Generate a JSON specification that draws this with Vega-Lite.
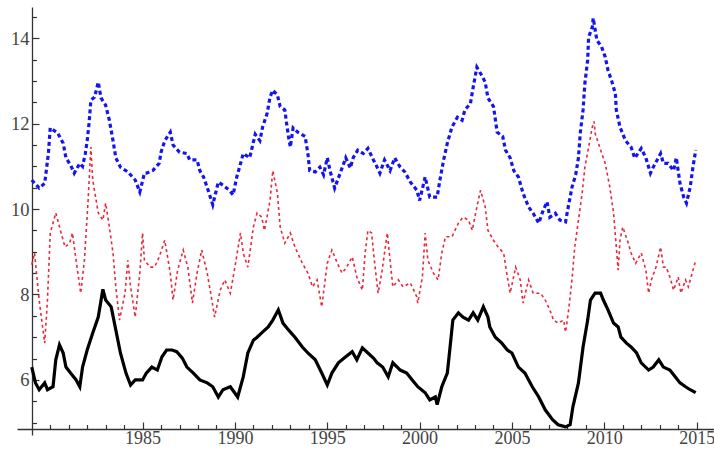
{
  "$schema": "https://vega.github.io/schema/vega-lite/v6.json",
  "width": 697,
  "height": 428,
  "autosize": {"type": "none"},
  "padding": {"left": 17, "top": 7, "right": 0, "bottom": 22},
  "background": "white",
  "config": {"view": {"stroke": null}},
  "datasets": {
    "upper": [
      {"t":1979.0,"v":10.68},{"t":1979.4,"v":10.49},{"t":1979.7,"v":10.6},{"t":1979.9,"v":11.3},{"t":1980.0,"v":11.9},{"t":1980.4,"v":11.78},{"t":1980.7,"v":11.54},{"t":1980.85,"v":11.2},{"t":1981.1,"v":11.03},{"t":1981.3,"v":10.84},{"t":1981.6,"v":11.07},{"t":1981.75,"v":11.0},{"t":1981.9,"v":11.3},{"t":1982.0,"v":11.6},{"t":1982.1,"v":12.0},{"t":1982.2,"v":12.55},{"t":1982.4,"v":12.62},{"t":1982.6,"v":12.97},{"t":1982.75,"v":12.6},{"t":1983.0,"v":12.43},{"t":1983.2,"v":12.08},{"t":1983.4,"v":11.6},{"t":1983.55,"v":11.2},{"t":1983.8,"v":10.98},{"t":1984.2,"v":10.87},{"t":1984.6,"v":10.68},{"t":1984.85,"v":10.4},{"t":1985.1,"v":10.84},{"t":1985.2,"v":10.84},{"t":1985.55,"v":10.9},{"t":1985.9,"v":11.07},{"t":1986.0,"v":11.33},{"t":1986.2,"v":11.6},{"t":1986.5,"v":11.8},{"t":1986.65,"v":11.5},{"t":1987.0,"v":11.33},{"t":1987.4,"v":11.3},{"t":1987.55,"v":11.15},{"t":1987.95,"v":11.15},{"t":1988.1,"v":10.9},{"t":1988.3,"v":10.75},{"t":1988.55,"v":10.44},{"t":1988.8,"v":10.1},{"t":1989.1,"v":10.63},{"t":1989.35,"v":10.56},{"t":1989.7,"v":10.44},{"t":1989.9,"v":10.33},{"t":1990.1,"v":10.75},{"t":1990.25,"v":10.98},{"t":1990.45,"v":11.3},{"t":1990.8,"v":11.2},{"t":1991.1,"v":11.75},{"t":1991.35,"v":11.6},{"t":1991.5,"v":11.92},{"t":1991.75,"v":12.25},{"t":1991.9,"v":12.62},{"t":1992.05,"v":12.78},{"t":1992.3,"v":12.67},{"t":1992.45,"v":12.4},{"t":1992.7,"v":12.32},{"t":1992.8,"v":12.0},{"t":1992.9,"v":11.7},{"t":1993.0,"v":11.45},{"t":1993.15,"v":11.9},{"t":1993.4,"v":11.8},{"t":1993.8,"v":11.7},{"t":1993.95,"v":11.3},{"t":1994.05,"v":10.9},{"t":1994.35,"v":10.87},{"t":1994.6,"v":10.98},{"t":1994.8,"v":10.8},{"t":1995.0,"v":11.2},{"t":1995.15,"v":10.9},{"t":1995.4,"v":10.49},{"t":1995.7,"v":10.84},{"t":1996.0,"v":11.2},{"t":1996.25,"v":10.96},{"t":1996.4,"v":11.2},{"t":1996.65,"v":11.38},{"t":1996.95,"v":11.3},{"t":1997.2,"v":11.42},{"t":1997.5,"v":11.15},{"t":1997.6,"v":11.07},{"t":1997.85,"v":10.84},{"t":1998.1,"v":11.15},{"t":1998.4,"v":10.9},{"t":1998.65,"v":11.2},{"t":1998.95,"v":10.98},{"t":1999.2,"v":10.87},{"t":1999.5,"v":10.63},{"t":1999.85,"v":10.44},{"t":2000.0,"v":10.2},{"t":2000.3,"v":10.75},{"t":2000.55,"v":10.28},{"t":2000.95,"v":10.28},{"t":2001.1,"v":10.68},{"t":2001.3,"v":11.15},{"t":2001.5,"v":11.54},{"t":2001.75,"v":11.92},{"t":2002.05,"v":12.15},{"t":2002.3,"v":12.08},{"t":2002.45,"v":12.32},{"t":2002.75,"v":12.47},{"t":2002.9,"v":12.85},{"t":2003.1,"v":13.32},{"t":2003.4,"v":13.1},{"t":2003.55,"v":12.97},{"t":2003.7,"v":12.6},{"t":2004.0,"v":12.4},{"t":2004.2,"v":11.8},{"t":2004.5,"v":11.7},{"t":2004.65,"v":11.38},{"t":2004.9,"v":11.2},{"t":2005.1,"v":10.9},{"t":2005.35,"v":10.75},{"t":2005.6,"v":10.37},{"t":2005.9,"v":10.05},{"t":2006.15,"v":9.9},{"t":2006.45,"v":9.67},{"t":2006.7,"v":9.98},{"t":2006.9,"v":10.17},{"t":2007.05,"v":9.81},{"t":2007.35,"v":9.9},{"t":2007.6,"v":9.74},{"t":2007.9,"v":9.7},{"t":2008.05,"v":10.05},{"t":2008.25,"v":10.51},{"t":2008.45,"v":10.8},{"t":2008.6,"v":11.2},{"t":2008.7,"v":11.78},{"t":2008.85,"v":12.32},{"t":2008.95,"v":12.95},{"t":2009.1,"v":13.49},{"t":2009.15,"v":14.02},{"t":2009.35,"v":14.26},{"t":2009.4,"v":14.47},{"t":2009.6,"v":13.95},{"t":2009.85,"v":13.8},{"t":2010.05,"v":13.56},{"t":2010.2,"v":13.25},{"t":2010.4,"v":13.0},{"t":2010.6,"v":12.7},{"t":2010.65,"v":12.32},{"t":2010.85,"v":11.92},{"t":2011.15,"v":11.6},{"t":2011.45,"v":11.45},{"t":2011.65,"v":11.19},{"t":2012.0,"v":11.42},{"t":2012.25,"v":11.2},{"t":2012.5,"v":10.84},{"t":2012.65,"v":10.98},{"t":2013.05,"v":11.3},{"t":2013.2,"v":11.07},{"t":2013.45,"v":11.07},{"t":2013.75,"v":10.9},{"t":2013.9,"v":11.2},{"t":2014.1,"v":10.6},{"t":2014.3,"v":10.28},{"t":2014.45,"v":10.14},{"t":2014.65,"v":10.51},{"t":2014.8,"v":10.98},{"t":2014.95,"v":11.38}
    ],
    "middle": [
      {"t":1979.0,"v":8.7},{"t":1979.15,"v":8.97},{"t":1979.4,"v":7.87},{"t":1979.7,"v":6.86},{"t":1979.85,"v":7.87},{"t":1980.0,"v":9.44},{"t":1980.3,"v":9.91},{"t":1980.55,"v":9.5},{"t":1980.8,"v":9.11},{"t":1981.05,"v":9.2},{"t":1981.2,"v":9.44},{"t":1981.4,"v":8.8},{"t":1981.65,"v":8.03},{"t":1981.85,"v":8.8},{"t":1982.05,"v":10.2},{"t":1982.2,"v":11.45},{"t":1982.3,"v":10.68},{"t":1982.6,"v":9.91},{"t":1982.85,"v":9.74},{"t":1983.0,"v":10.14},{"t":1983.2,"v":9.58},{"t":1983.4,"v":8.97},{"t":1983.55,"v":8.18},{"t":1983.75,"v":7.4},{"t":1984.05,"v":8.03},{"t":1984.2,"v":8.8},{"t":1984.35,"v":8.18},{"t":1984.6,"v":7.47},{"t":1984.85,"v":8.5},{"t":1985.0,"v":9.44},{"t":1985.1,"v":8.8},{"t":1985.4,"v":8.64},{"t":1985.65,"v":8.64},{"t":1985.9,"v":8.88},{"t":1986.2,"v":9.27},{"t":1986.5,"v":8.5},{"t":1986.65,"v":7.87},{"t":1986.9,"v":8.57},{"t":1987.2,"v":9.04},{"t":1987.45,"v":8.64},{"t":1987.7,"v":7.8},{"t":1987.95,"v":8.5},{"t":1988.2,"v":9.04},{"t":1988.5,"v":8.5},{"t":1988.75,"v":7.87},{"t":1988.9,"v":7.47},{"t":1989.2,"v":8.1},{"t":1989.45,"v":8.34},{"t":1989.75,"v":8.03},{"t":1990.0,"v":8.64},{"t":1990.3,"v":9.44},{"t":1990.45,"v":8.97},{"t":1990.7,"v":8.64},{"t":1991.0,"v":9.58},{"t":1991.2,"v":9.91},{"t":1991.45,"v":9.81},{"t":1991.6,"v":9.5},{"t":1991.9,"v":10.2},{"t":1992.05,"v":10.9},{"t":1992.3,"v":10.37},{"t":1992.45,"v":9.58},{"t":1992.7,"v":9.2},{"t":1993.0,"v":9.44},{"t":1993.25,"v":9.11},{"t":1993.65,"v":8.73},{"t":1993.95,"v":8.5},{"t":1994.2,"v":8.18},{"t":1994.45,"v":8.34},{"t":1994.7,"v":7.71},{"t":1995.0,"v":8.73},{"t":1995.25,"v":9.04},{"t":1995.55,"v":8.73},{"t":1995.8,"v":8.5},{"t":1996.05,"v":8.64},{"t":1996.35,"v":8.88},{"t":1996.6,"v":8.41},{"t":1996.9,"v":8.1},{"t":1997.05,"v":8.97},{"t":1997.2,"v":9.5},{"t":1997.4,"v":9.44},{"t":1997.55,"v":8.8},{"t":1997.75,"v":8.03},{"t":1997.95,"v":8.5},{"t":1998.25,"v":9.44},{"t":1998.4,"v":8.8},{"t":1998.55,"v":8.18},{"t":1998.85,"v":8.34},{"t":1999.1,"v":8.18},{"t":1999.5,"v":8.27},{"t":1999.85,"v":7.94},{"t":1999.9,"v":7.8},{"t":2000.15,"v":8.41},{"t":2000.3,"v":9.44},{"t":2000.45,"v":8.8},{"t":2000.75,"v":8.5},{"t":2001.0,"v":8.34},{"t":2001.2,"v":8.97},{"t":2001.4,"v":9.35},{"t":2001.75,"v":9.35},{"t":2002.1,"v":9.67},{"t":2002.35,"v":9.81},{"t":2002.65,"v":9.74},{"t":2002.85,"v":9.5},{"t":2003.1,"v":10.05},{"t":2003.3,"v":10.44},{"t":2003.55,"v":10.05},{"t":2003.7,"v":9.5},{"t":2004.0,"v":9.27},{"t":2004.25,"v":9.11},{"t":2004.55,"v":8.97},{"t":2004.75,"v":8.41},{"t":2004.9,"v":8.03},{"t":2005.2,"v":8.64},{"t":2005.45,"v":8.34},{"t":2005.6,"v":7.8},{"t":2005.9,"v":8.34},{"t":2006.15,"v":8.03},{"t":2006.55,"v":8.03},{"t":2006.8,"v":7.87},{"t":2007.05,"v":7.64},{"t":2007.25,"v":7.4},{"t":2007.5,"v":7.33},{"t":2007.8,"v":7.4},{"t":2007.9,"v":7.12},{"t":2008.05,"v":7.57},{"t":2008.25,"v":8.34},{"t":2008.4,"v":9.11},{"t":2008.6,"v":9.74},{"t":2008.8,"v":10.37},{"t":2008.95,"v":10.98},{"t":2009.15,"v":11.45},{"t":2009.35,"v":11.92},{"t":2009.45,"v":12.05},{"t":2009.5,"v":11.78},{"t":2009.8,"v":11.38},{"t":2010.05,"v":11.07},{"t":2010.3,"v":10.51},{"t":2010.5,"v":9.91},{"t":2010.65,"v":9.11},{"t":2010.75,"v":8.57},{"t":2010.85,"v":9.27},{"t":2011.0,"v":9.58},{"t":2011.3,"v":9.2},{"t":2011.45,"v":8.97},{"t":2011.7,"v":8.73},{"t":2012.0,"v":8.97},{"t":2012.25,"v":8.57},{"t":2012.4,"v":8.03},{"t":2012.55,"v":8.34},{"t":2012.8,"v":8.64},{"t":2013.05,"v":9.11},{"t":2013.2,"v":8.64},{"t":2013.35,"v":8.64},{"t":2013.55,"v":8.41},{"t":2013.75,"v":8.1},{"t":2014.0,"v":8.41},{"t":2014.15,"v":8.03},{"t":2014.4,"v":8.34},{"t":2014.55,"v":8.18},{"t":2014.7,"v":8.41},{"t":2014.95,"v":8.8}
    ],
    "lower": [
      {"t":1979.0,"v":6.3},{"t":1979.2,"v":5.93},{"t":1979.4,"v":5.77},{"t":1979.7,"v":5.93},{"t":1979.85,"v":5.77},{"t":1980.15,"v":5.84},{"t":1980.3,"v":6.47},{"t":1980.5,"v":6.82},{"t":1980.7,"v":6.63},{"t":1980.85,"v":6.3},{"t":1981.1,"v":6.16},{"t":1981.4,"v":6.0},{"t":1981.6,"v":5.84},{"t":1981.75,"v":6.3},{"t":1982.0,"v":6.7},{"t":1982.3,"v":7.1},{"t":1982.6,"v":7.47},{"t":1982.85,"v":8.12},{"t":1983.0,"v":7.87},{"t":1983.3,"v":7.71},{"t":1983.55,"v":7.17},{"t":1983.8,"v":6.63},{"t":1984.1,"v":6.16},{"t":1984.35,"v":5.88},{"t":1984.6,"v":6.0},{"t":1985.0,"v":6.0},{"t":1985.2,"v":6.16},{"t":1985.5,"v":6.3},{"t":1985.8,"v":6.23},{"t":1986.05,"v":6.54},{"t":1986.3,"v":6.7},{"t":1986.6,"v":6.7},{"t":1986.85,"v":6.66},{"t":1987.15,"v":6.51},{"t":1987.4,"v":6.3},{"t":1987.75,"v":6.16},{"t":1988.1,"v":6.0},{"t":1988.5,"v":5.93},{"t":1988.8,"v":5.84},{"t":1989.1,"v":5.6},{"t":1989.35,"v":5.77},{"t":1989.75,"v":5.84},{"t":1990.15,"v":5.6},{"t":1990.45,"v":6.07},{"t":1990.7,"v":6.63},{"t":1991.0,"v":6.93},{"t":1991.2,"v":7.0},{"t":1991.45,"v":7.1},{"t":1991.8,"v":7.24},{"t":1992.05,"v":7.4},{"t":1992.35,"v":7.64},{"t":1992.6,"v":7.33},{"t":1992.9,"v":7.17},{"t":1993.25,"v":7.0},{"t":1993.65,"v":6.77},{"t":1993.95,"v":6.63},{"t":1994.35,"v":6.47},{"t":1994.7,"v":6.16},{"t":1995.0,"v":5.88},{"t":1995.25,"v":6.16},{"t":1995.6,"v":6.4},{"t":1996.0,"v":6.54},{"t":1996.35,"v":6.66},{"t":1996.6,"v":6.47},{"t":1996.9,"v":6.75},{"t":1997.2,"v":6.63},{"t":1997.5,"v":6.51},{"t":1997.7,"v":6.4},{"t":1998.0,"v":6.3},{"t":1998.3,"v":6.07},{"t":1998.55,"v":6.4},{"t":1998.95,"v":6.23},{"t":1999.3,"v":6.16},{"t":1999.6,"v":6.0},{"t":1999.9,"v":5.84},{"t":2000.3,"v":5.7},{"t":2000.55,"v":5.53},{"t":2000.85,"v":5.6},{"t":2000.95,"v":5.42},{"t":2001.2,"v":5.84},{"t":2001.5,"v":6.16},{"t":2001.65,"v":6.77},{"t":2001.8,"v":7.4},{"t":2002.1,"v":7.57},{"t":2002.35,"v":7.47},{"t":2002.65,"v":7.4},{"t":2002.9,"v":7.57},{"t":2003.15,"v":7.4},{"t":2003.45,"v":7.71},{"t":2003.7,"v":7.47},{"t":2003.8,"v":7.24},{"t":2004.1,"v":7.0},{"t":2004.45,"v":6.86},{"t":2004.75,"v":6.7},{"t":2005.0,"v":6.63},{"t":2005.35,"v":6.3},{"t":2005.7,"v":6.16},{"t":2006.1,"v":5.84},{"t":2006.45,"v":5.6},{"t":2006.8,"v":5.3},{"t":2007.2,"v":5.07},{"t":2007.5,"v":4.95},{"t":2007.9,"v":4.9},{"t":2008.15,"v":4.95},{"t":2008.3,"v":5.37},{"t":2008.6,"v":5.93},{"t":2008.85,"v":6.77},{"t":2009.1,"v":7.4},{"t":2009.25,"v":7.87},{"t":2009.5,"v":8.03},{"t":2009.8,"v":8.03},{"t":2009.95,"v":7.87},{"t":2010.2,"v":7.64},{"t":2010.5,"v":7.33},{"t":2010.75,"v":7.24},{"t":2010.9,"v":7.0},{"t":2011.2,"v":6.86},{"t":2011.45,"v":6.77},{"t":2011.75,"v":6.63},{"t":2012.0,"v":6.4},{"t":2012.4,"v":6.23},{"t":2012.65,"v":6.3},{"t":2012.95,"v":6.47},{"t":2013.2,"v":6.3},{"t":2013.55,"v":6.23},{"t":2013.85,"v":6.07},{"t":2014.1,"v":5.93},{"t":2014.4,"v":5.84},{"t":2014.65,"v":5.77},{"t":2014.95,"v":5.7}
    ]
  },
  "layer": [
    {
      "data": {"name": "lower"},
      "mark": {"type": "point", "opacity": 0},
      "encoding": {
        "x": {"field": "t", "type": "quantitative", "scale": {"domain": [1978.2, 2015.94], "nice": false, "zero": false},
          "axis": {"orient": "bottom", "offset": -6, "values": [1980,1981,1982,1983,1984,1986,1987,1988,1989,1991,1992,1993,1994,1996,1997,1998,1999,2001,2002,2003,2004,2006,2007,2008,2009,2011,2012,2013,2014], "labels": false, "domain": false, "grid": false, "tickSize": -4.5, "tickColor": "#333", "tickWidth": 1.2, "title": null}},
        "y": {"field": "v", "type": "quantitative", "scale": {"domain": [4.71, 14.73], "nice": false, "zero": false},
          "axis": {"orient": "left", "offset": -15, "values": [5,5.5,6.5,7,7.5,8.5,9,9.5,10.5,11,11.5,12.5,13,13.5,14.5], "labels": false, "domain": false, "grid": false, "tickSize": -4.5, "tickColor": "#333", "tickWidth": 1.2, "title": null}}
      }
    },
    {
      "data": {"name": "upper"},
      "mark": {"type": "line", "color": "#1414f0", "strokeWidth": 3.2, "strokeDash": [4, 3]},
      "encoding": {
        "x": {"field": "t", "type": "quantitative", "scale": {"domain": [1978.2, 2015.94], "nice": false, "zero": false},
          "axis": {"orient": "bottom", "offset": -6, "values": [1985,1990,1995,2000,2005,2010,2015], "format": "d", "grid": false, "domainColor": "#333", "domainWidth": 1.3, "tickColor": "#333", "tickWidth": 1.2, "tickSize": -7, "labelFont": "Liberation Serif", "labelFontSize": 18, "labelColor": "#444", "labelPadding": 7, "labelFlush": false, "labelBound": false, "title": null,
            "encode": {"labels": {"update": {"dx": {"signal": "datum.value == 2015 ? -5 : 0"}}}}}},
        "y": {"field": "v", "type": "quantitative", "scale": {"domain": [4.71, 14.73], "nice": false, "zero": false},
          "axis": {"orient": "left", "offset": -15, "values": [6,8,10,12,14], "grid": false, "domainColor": "#333", "domainWidth": 1.3, "tickColor": "#333", "tickWidth": 1.2, "tickSize": -7, "labelFont": "Liberation Serif", "labelFontSize": 18.5, "labelColor": "#444", "labelPadding": 10, "labelFlush": false, "title": null}}
      }
    },
    {
      "data": {"name": "middle"},
      "mark": {"type": "line", "color": "#e8283c", "strokeWidth": 1.6, "strokeDash": [3, 3]},
      "encoding": {
        "x": {"field": "t", "type": "quantitative", "scale": {"domain": [1978.2, 2015.94], "nice": false, "zero": false}, "axis": null},
        "y": {"field": "v", "type": "quantitative", "scale": {"domain": [4.71, 14.73], "nice": false, "zero": false}, "axis": null}
      }
    },
    {
      "data": {"name": "lower"},
      "mark": {"type": "line", "color": "#000000", "strokeWidth": 3.2},
      "encoding": {
        "x": {"field": "t", "type": "quantitative", "scale": {"domain": [1978.2, 2015.94], "nice": false, "zero": false}, "axis": null},
        "y": {"field": "v", "type": "quantitative", "scale": {"domain": [4.71, 14.73], "nice": false, "zero": false}, "axis": null}
      }
    }
  ],
  "resolve": {"axis": {"x": "independent", "y": "independent"}}
}
